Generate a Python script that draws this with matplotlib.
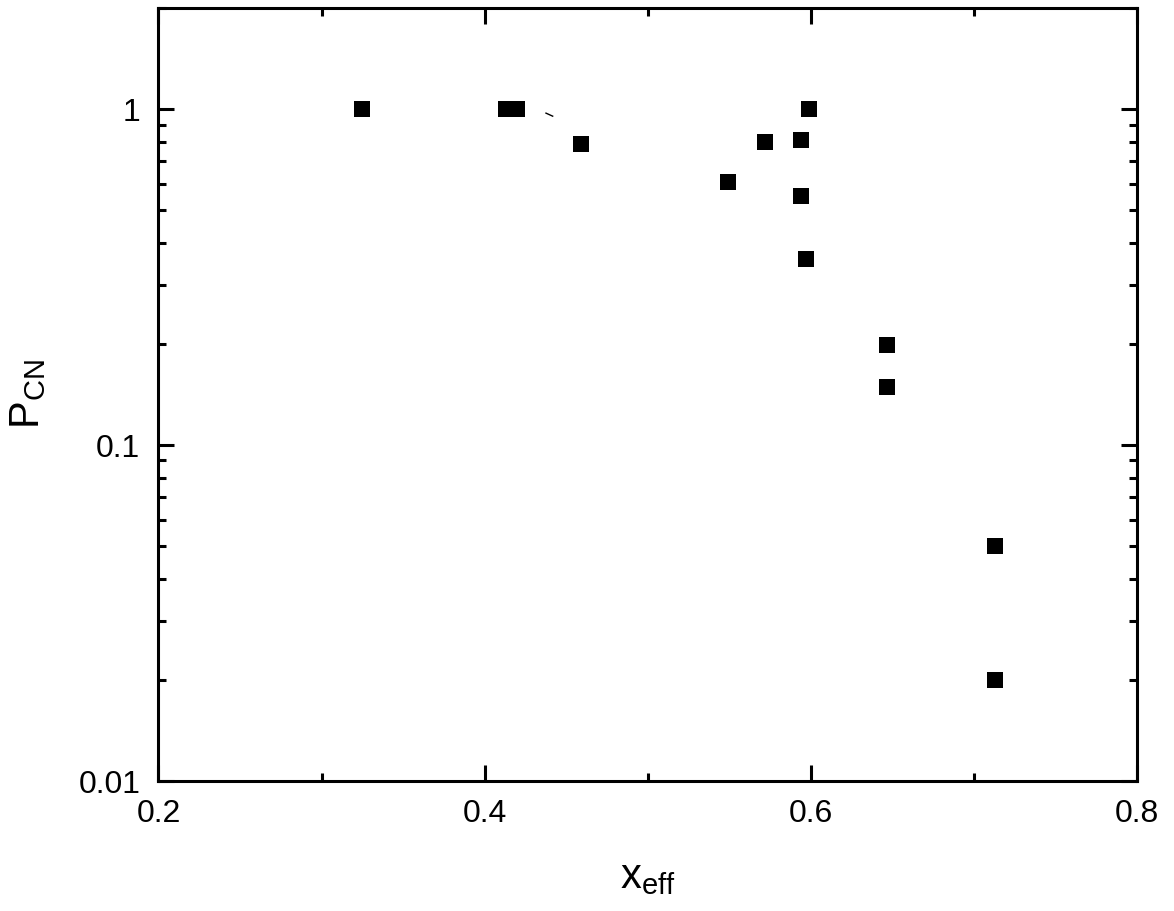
import matplotlib
matplotlib.use('Agg')
import matplotlib.pyplot as plt
from matplotlib.ticker import FixedLocator, LogLocator, NullFormatter, FixedFormatter

plt.rcParams.update({
    'font.family': 'Liberation Sans',
    'mathtext.fontset': 'custom',
    'mathtext.rm': 'Liberation Sans',
    'mathtext.it': 'Liberation Sans',
})

# data
x_eff = [0.325, 0.413, 0.420, 0.459, 0.549, 0.572, 0.594, 0.594, 0.597, 0.599,
         0.647, 0.647, 0.713, 0.713]
p_cn = [1.0, 1.0, 1.0, 0.79, 0.605, 0.80, 0.81, 0.552, 0.359, 1.0,
        0.199, 0.149, 0.050, 0.020]
# small stray stroke near (0.44, 0.96)
stray_x = [0.4376, 0.4417]
stray_y = [0.973, 0.953]

x_major = [0.2, 0.4, 0.6, 0.8]
x_minor = [0.3, 0.5, 0.7]
y_major = [0.01, 0.1, 1]
y_labels = ['0.01', '0.1', '1']

fig = plt.figure(figsize=(11.74, 9.11), dpi=100)
ax = fig.add_axes([0.135, 0.1427, 0.8335, 0.8485])
ax.plot(x_eff, p_cn, 's', color='black', ms=12.2, mew=0)
ax.plot(stray_x, stray_y, '-', color='black', lw=1)
ax.set_yscale('log')
ax.set_xlim(0.2, 0.8)
ax.set_ylim(0.01, 2)

ax.xaxis.set_major_locator(FixedLocator(x_major))
ax.xaxis.set_minor_locator(FixedLocator(x_minor))
ax.set_xticklabels([f'{v:.1f}' for v in x_major])
ax.yaxis.set_major_locator(FixedLocator(y_major))
ax.yaxis.set_major_formatter(FixedFormatter(y_labels))
ax.yaxis.set_minor_locator(LogLocator(base=10, subs=range(2, 10)))
ax.yaxis.set_minor_formatter(NullFormatter())

for s in ax.spines.values():
    s.set_linewidth(2.2)
ax.tick_params(which='both', direction='in', top=True, right=True,
               width=2.2, labelsize=23, pad=13)
ax.tick_params(which='major', length=11.5)
ax.tick_params(which='minor', length=6)

ax.set_xlabel(r'$\mathrm{x}_{\mathrm{eff}}$', fontsize=30, labelpad=20)
ax.set_ylabel(r'$\mathrm{P}_{\mathrm{CN}}$', fontsize=30, labelpad=22)

fig.savefig('out.png', dpi=100)
